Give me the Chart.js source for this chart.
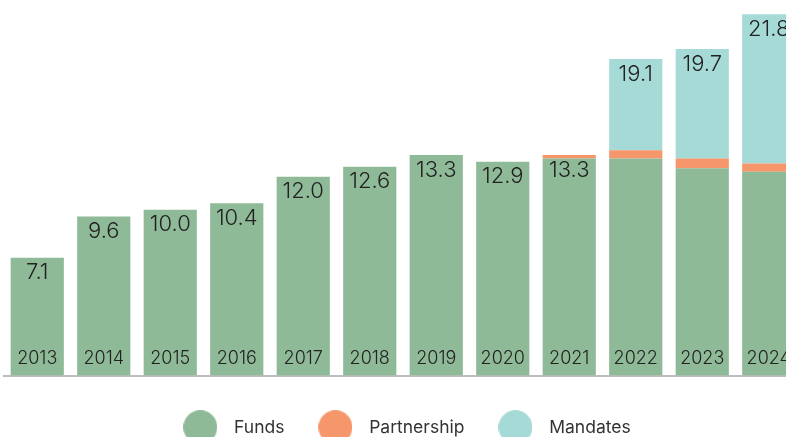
<!DOCTYPE html>
<html>
<head>
<meta charset="utf-8">
<script src="https://cdn.jsdelivr.net/npm/chart.js@4.4.1/dist/chart.umd.min.js"></script>
<style>
  html, body { margin: 0; padding: 0; background: #fff; overflow: hidden; }
  #wrap { width: 806px; height: 446px; }
</style>
</head>
<body>
<div id="wrap"><canvas id="aumChart" width="806" height="446"></canvas></div>
<script>
// assets per year, split by vehicle
var years = ['2013', '2014', '2015', '2016', '2017', '2018', '2019', '2020', '2021', '2022', '2023', '2024'];
var funds = [7.1, 9.6, 10.0, 10.4, 12.0, 12.6, 13.3, 12.9, 13.1, 13.1, 12.5, 12.3];
var partnership = [0, 0, 0, 0, 0, 0, 0, 0, 0.2, 0.5, 0.6, 0.5];
var mandates = [0, 0, 0, 0, 0, 0, 0, 0, 0, 5.5, 6.6, 9.0];

var colors = ['#8fba98', '#f6976b', '#a6dad6'];
var FONT = 'Inter, Lato, "Open Sans", sans-serif';

// big round legend markers, drawn once as small canvases
function makeDot(color) {
    var c = document.createElement('canvas');
    c.width = 34;
    c.height = 34;
    var g = c.getContext('2d');
    g.fillStyle = color;
    g.beginPath();
    g.arc(17, 17, 17, 0, Math.PI * 2);
    g.fill();
    return c;
}
var dots = colors.map(makeDot);

// totals on top of each stack, year at the foot of each bar
var barText = {
    id: 'barText',
    afterDatasetsDraw: function (chart) {
        var ctx = chart.ctx;
        var y = chart.scales.y;
        var bars = chart.getDatasetMeta(0).data;
        ctx.save();
        ctx.fillStyle = '#222';
        ctx.textAlign = 'center';
        ctx.textBaseline = 'middle';
        years.forEach(function (yr, i) {
            var total = funds[i] + partnership[i] + mandates[i];
            var x = bars[i].x;
            ctx.font = '300 22px ' + FONT;
            ctx.fillText(total.toFixed(1), x, y.getPixelForValue(total) + 15);
            ctx.font = '300 18px ' + FONT;
            ctx.fillText(yr, x, y.getPixelForValue(0) - 17);
        });
        ctx.restore();
    }
};

var chart = new Chart(document.getElementById('aumChart'), {
    type: 'bar',
    data: {
        labels: years,
        datasets: [
            { label: 'Funds', data: funds, backgroundColor: colors[0] },
            { label: 'Partnership', data: partnership, backgroundColor: colors[1] },
            { label: 'Mandates', data: mandates, backgroundColor: colors[2] }
        ]
    },
    options: {
        responsive: false,
        devicePixelRatio: 1,
        animation: false,
        layout: { padding: { top: 0, left: 4, right: 4, bottom: 0 } },
        datasets: {
            bar: { barPercentage: 1, categoryPercentage: 0.8 }
        },
        scales: {
            x: {
                stacked: true,
                grid: { display: false },
                ticks: { display: false },
                border: { display: true, color: '#bdbdbd', width: 2 },
                afterFit: function (scale) { scale.height = 17; }
            },
            y: {
                stacked: true,
                display: false,
                min: 0,
                max: 22.66
            }
        },
        plugins: {
            tooltip: { enabled: false },
            legend: {
                position: 'bottom',
                labels: {
                    usePointStyle: true,
                    pointStyleWidth: 50,
                    padding: 26,
                    color: '#333',
                    font: { family: FONT, size: 17.5 },
                    generateLabels: function (chart) {
                        var items = Chart.defaults.plugins.legend.labels.generateLabels(chart);
                        items.forEach(function (it, i) { it.pointStyle = dots[i]; });
                        return items;
                    }
                }
            }
        }
    },
    plugins: [barText]
});
</script>
</body>
</html>
